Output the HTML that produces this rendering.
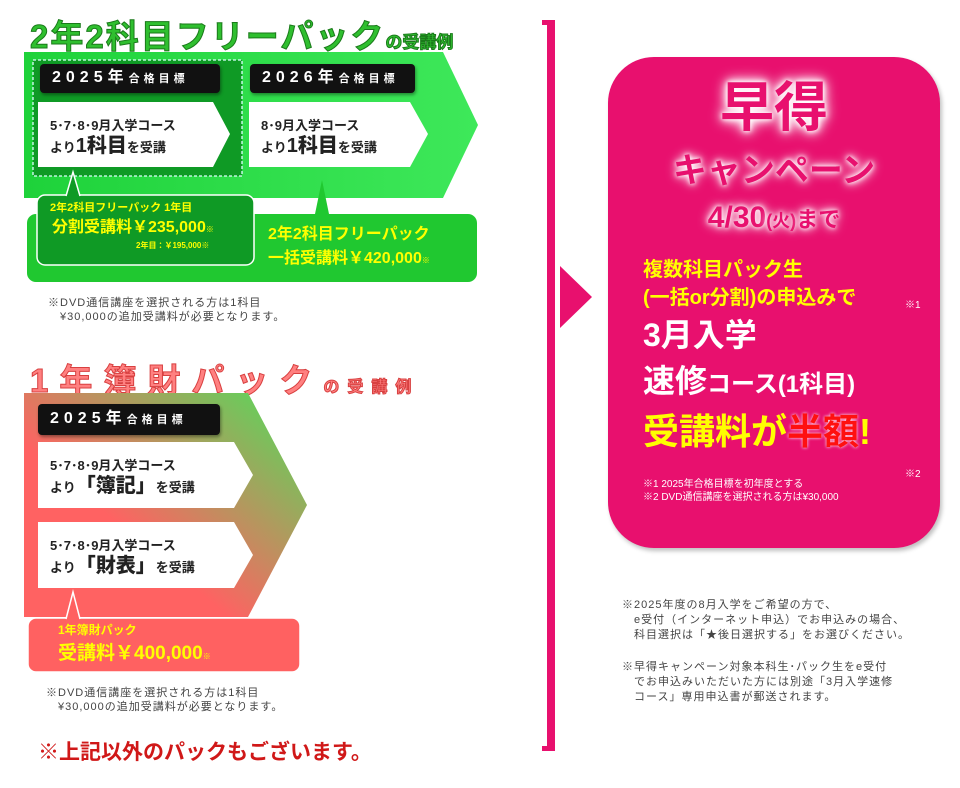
<!DOCTYPE html>
<html><head><meta charset="utf-8"><style>
*{margin:0;padding:0;box-sizing:border-box}
body{width:960px;height:788px;background:#fff;position:relative;overflow:hidden;font-family:"Liberation Sans","Noto Sans CJK JP",sans-serif}
.a{position:absolute;white-space:nowrap}
.blk{position:absolute;background:#111;color:#fff;font-weight:bold;border-radius:4px;font-size:16px;letter-spacing:5px;padding-left:12px;line-height:28px;box-shadow:1px 2px 3px rgba(0,0,0,.4)}
.blk small{font-size:11px;letter-spacing:4px}
.wt{position:absolute;color:#222;font-weight:bold;font-size:13px;line-height:20px;padding:14px 0 0 12px}
.wt b{font-size:20px}
.note{position:absolute;font-size:11px;color:#444;line-height:14px;letter-spacing:1px;white-space:nowrap}
.y{color:#ff0}
</style></head><body>

<!-- Section 1 -->
<div class="a" style="left:30px;top:10px;font-size:33px;font-weight:bold;color:#2fbf2f;-webkit-text-stroke:1px #1a7a1a;letter-spacing:2px;text-shadow:0 0 3px #fff">2年2科目フリーパック<span style="font-size:17px;letter-spacing:0">の受講例</span></div>
<svg class="a" style="left:0;top:0" width="520" height="300">
<defs><linearGradient id="g1" x1="0" y1="0" x2="1" y2="0"><stop offset="0" stop-color="#1ed23a"/><stop offset="1" stop-color="#3ee85a"/></linearGradient></defs>
<polygon points="24,52 443,52 478,125 443,198 24,198" fill="url(#g1)"/>
<rect x="26" y="213" width="452" height="70" rx="10" fill="#20c830" stroke="#fff" stroke-width="2"/>
<rect x="33" y="60" width="209" height="116" fill="#0f9a25" stroke="#dff" stroke-width="1.3" stroke-dasharray="3,2"/>
<polygon points="38,102 213,102 230,134 213,167 38,167" fill="#fff"/>
<polygon points="249,102 410,102 428,134 410,167 249,167" fill="#fff"/>
<polygon points="315,214 322,180 329,214" fill="#20c830"/>
<rect x="37" y="195" width="217" height="70" rx="8" fill="#0f9a25" stroke="#fff" stroke-width="1.5"/>
<polygon points="66,197 73,172 80,197" fill="#0f9a25"/>
<polyline points="66,196 73,172 80,196" fill="none" stroke="#fff" stroke-width="1.5"/>
</svg>
<div class="blk" style="left:40px;top:64px;width:180px">2025年<small>合格目標</small></div>
<div class="blk" style="left:250px;top:64px;width:165px">2026年<small>合格目標</small></div>
<div class="wt" style="left:38px;top:102px">5･7･8･9月入学コース<br>より<b>1科目</b>を受講</div>
<div class="wt" style="left:249px;top:102px">8･9月入学コース<br>より<b>1科目</b>を受講</div>
<div class="a y" style="left:50px;top:199px;font-size:11px;font-weight:bold">2年2科目フリーパック 1年目</div>
<div class="a y" style="left:52px;top:213px;font-size:16px;font-weight:bold">分割受講料￥235,000<small style="font-size:8px">※</small></div>
<div class="a y" style="left:136px;top:240px;font-size:8px;font-weight:bold">2年目：￥195,000※</div>
<div class="a y" style="left:268px;top:223px;font-size:16px;font-weight:bold;line-height:24px">2年2科目フリーパック<br>一括受講料￥420,000<small style="font-size:8px">※</small></div>
<div class="note" style="left:48px;top:296px">※DVD通信講座を選択される方は1科目<br>　¥30,000の追加受講料が必要となります。</div>

<!-- Section 2 -->
<div class="a" style="left:30px;top:354px;font-size:33px;font-weight:bold;color:#ff8080;-webkit-text-stroke:1px #d84040;letter-spacing:11px">1年簿財パック<span style="font-size:16px;letter-spacing:8px">の受講例</span></div>
<svg class="a" style="left:0;top:380px" width="320" height="300">
<defs><linearGradient id="g2" x1="0.1" y1="0.85" x2="0.95" y2="0.05"><stop offset="0.3" stop-color="#ff6262"/><stop offset="1" stop-color="#5ad75a"/></linearGradient></defs>
<polygon points="24,13 248,13 307,125 248,237 24,237" fill="url(#g2)"/>
<polygon points="38,62 234,62 253,95 234,128 38,128" fill="#fff"/>
<polygon points="38,142 234,142 253,175 234,208 38,208" fill="#fff"/>
<rect x="28" y="238" width="272" height="54" rx="8" fill="#ff6161" stroke="#fff" stroke-width="1.5"/>
<polygon points="66,240 73,212 80,240" fill="#ff6161"/>
<polyline points="66,239 73,212 80,239" fill="none" stroke="#fff" stroke-width="1.5"/>
</svg>
<div class="blk" style="left:38px;top:404px;width:182px;line-height:29px">2025年<small>合格目標</small></div>
<div class="wt" style="left:38px;top:442px">5･7･8･9月入学コース<br>より<b>「簿記」</b>を受講</div>
<div class="wt" style="left:38px;top:522px">5･7･8･9月入学コース<br>より<b>「財表」</b>を受講</div>
<div class="a y" style="left:58px;top:621px;font-size:12px;font-weight:bold">1年簿財パック</div>
<div class="a y" style="left:58px;top:638px;font-size:19px;font-weight:bold">受講料￥400,000<small style="font-size:8px">※</small></div>
<div class="note" style="left:46px;top:686px">※DVD通信講座を選択される方は1科目<br>　¥30,000の追加受講料が必要となります。</div>
<div class="a" style="left:38px;top:736px;font-size:21px;font-weight:bold;color:#d01818">※上記以外のパックもございます。</div>

<!-- bracket & arrow -->
<div class="a" style="left:547px;top:20px;width:8px;height:731px;background:#e8106e"></div>
<div class="a" style="left:542px;top:20px;width:13px;height:5px;background:#e8106e"></div>
<div class="a" style="left:542px;top:746px;width:13px;height:5px;background:#e8106e"></div>
<svg class="a" style="left:558px;top:262px" width="40" height="70"><polygon points="2,4 34,35 2,66" fill="#e8106e"/></svg>

<!-- pink card -->
<div class="a" style="left:608px;top:57px;width:332px;height:491px;background:#e8106e;border-radius:46px;box-shadow:2px 3px 4px rgba(0,0,0,.25)"></div>
<div class="a" style="left:608px;top:76px;width:332px;text-align:center;color:#e8106e;font-weight:bold;font-size:54px;line-height:64px;text-shadow:0 0 4px #fff,0 0 8px #fff,0 0 12px #fff,0 0 16px #fff">早得</div>
<div class="a" style="left:608px;top:148px;width:332px;text-align:center;color:#e8106e;font-weight:bold;font-size:34px;line-height:46px;text-shadow:0 0 4px #fff,0 0 8px #fff,0 0 12px #fff">キャンペーン</div>
<div class="a" style="left:608px;top:198px;width:332px;text-align:center;color:#e8106e;font-weight:bold;font-size:30px;line-height:40px;text-shadow:0 0 4px #fff,0 0 8px #fff,0 0 12px #fff">4/30<span style="font-size:18px">(火)</span><span style="font-size:22px">まで</span></div>
<div class="a y" style="left:643px;top:256px;font-size:20px;font-weight:bold;line-height:28px">複数科目パック生<br>(一括or分割)の申込みで</div>
<div class="a" style="left:905px;top:296px;font-size:10px;color:#fff">※1</div>
<div class="a" style="left:643px;top:314px;font-size:32px;font-weight:bold;color:#fff;line-height:42px">3月入学</div>
<div class="a" style="left:643px;top:360px;font-size:32px;font-weight:bold;color:#fff;line-height:42px">速修<span style="font-size:24px">コース(1科目)</span></div>
<div class="a y" style="left:643px;top:408px;font-size:36px;font-weight:bold;line-height:48px">受講料が<span style="color:#ff1010;text-shadow:0 0 3px #fff">半額</span>!</div>
<div class="a" style="left:905px;top:465px;font-size:10px;color:#fff">※2</div>
<div class="a" style="left:643px;top:478px;font-size:10px;color:#fff;line-height:13px">※1 2025年合格目標を初年度とする<br>※2 DVD通信講座を選択される方は¥30,000</div>

<div class="note" style="left:622px;top:598px;line-height:15px">※2025年度の8月入学をご希望の方で、<br>　e受付（インターネット申込）でお申込みの場合、<br>　科目選択は「★後日選択する」をお選びください。</div>
<div class="note" style="left:622px;top:660px;line-height:15px">※早得キャンペーン対象本科生･パック生をe受付<br>　でお申込みいただいた方には別途「3月入学速修<br>　コース」専用申込書が郵送されます。</div>
</body></html>
